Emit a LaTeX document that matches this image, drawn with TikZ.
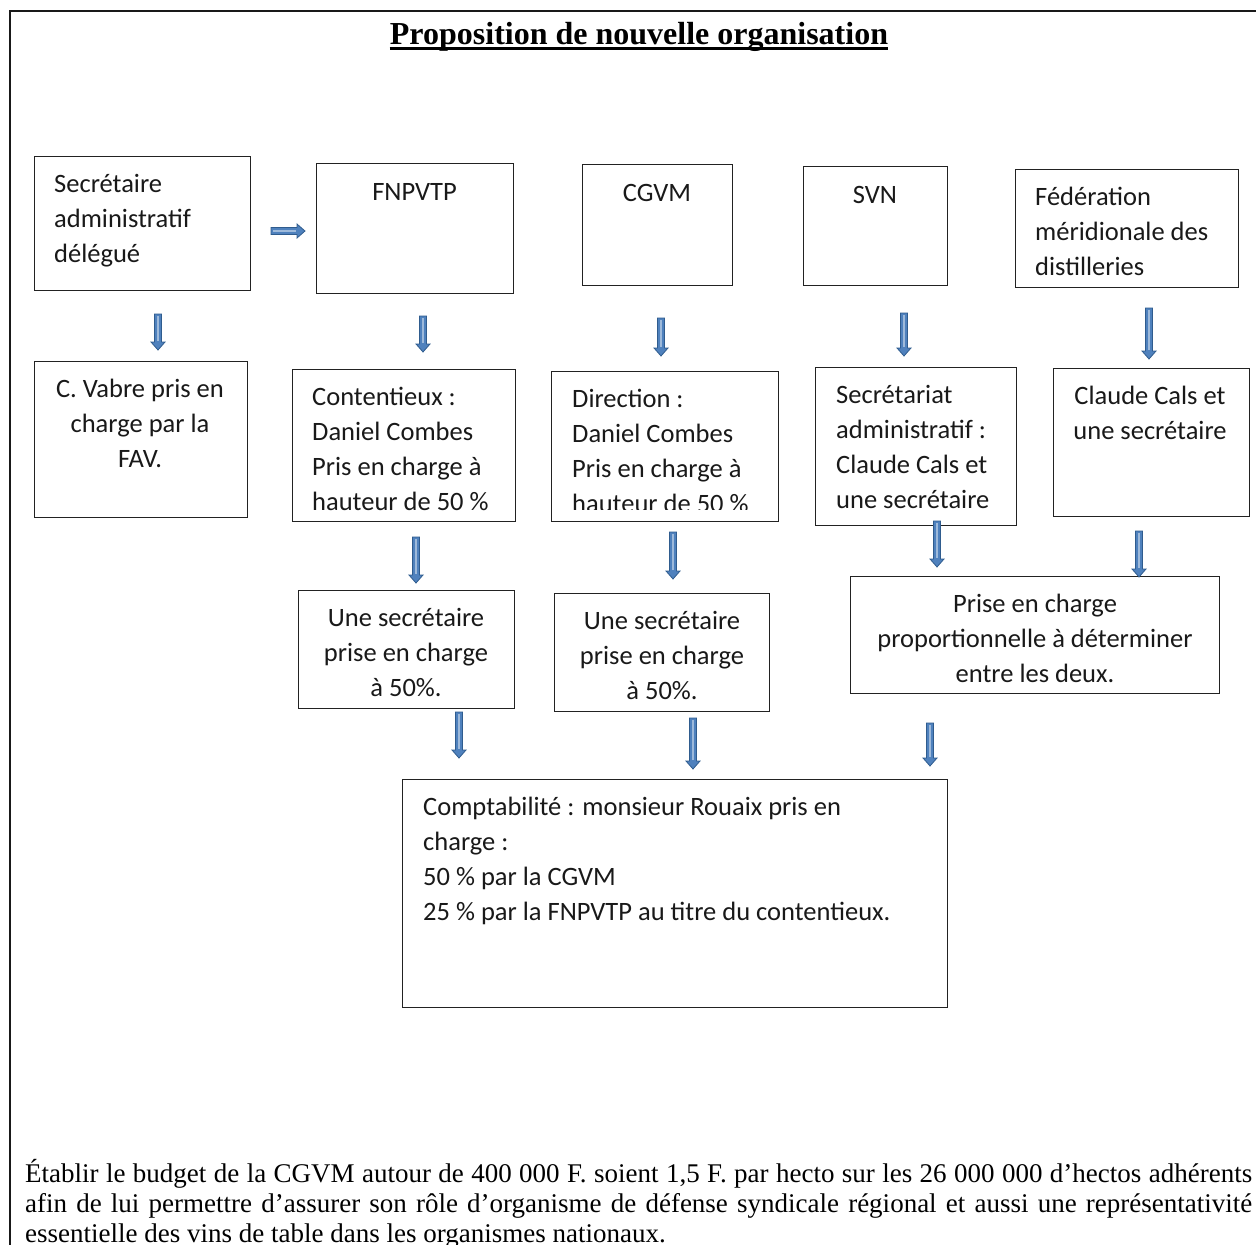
\documentclass[tikz,border=0pt]{standalone}
\usepackage{fontspec}
\setmainfont{Carlito}
\newfontfamily\tnr{Liberation Serif}
\definecolor{arrowfill}{HTML}{4F81BD}
\definecolor{arrowedge}{HTML}{2F5C8E}
\definecolor{boxline}{HTML}{222222}
\newcommand\blockdown[3]{%
  \fill[arrowfill, draw=arrowedge, line width=0.8pt, line join=miter]
    ({#1-3.5},{#2}) -- ({#1+3.5},{#2}) -- ({#1+3.5},{#3-8}) -- ({#1+7},{#3-8})
    -- ({#1},{#3}) -- ({#1-7},{#3-8}) -- ({#1-3.5},{#3-8}) -- cycle;
  \draw[white!45!arrowfill, line width=1.2pt] ({#1},{#2+2}) -- ({#1},{#3-9});}
\tikzset{
  box/.style={draw=boxline, line width=1.3pt, anchor=north west, inner sep=0pt},
  txt/.style={inner sep=0pt, font=\fontsize{26.5}{35}\selectfont, text=black!90},
  txtl/.style={txt, anchor=base west, align=left},
  txtc/.style={txt, anchor=base, align=center},
}
\begin{document}
\begin{tikzpicture}[x=1pt, y=-1pt]
\useasboundingbox (0,0) rectangle (1256,1245);
\fill[white] (0,0) rectangle (1256,1245);
% outer frame
\draw[line width=2.6pt, black!90] (1256,11) -- (10,11) -- (10,1250);
% title
\node[inner sep=0pt, anchor=base, font=\tnr\bfseries\fontsize{32}{36}\selectfont] (title) at (639,44) {Proposition de nouvelle organisation};
\draw[line width=2.4pt] ([yshift=-4.5pt]title.base west) -- ([yshift=-4.5pt]title.base east);

% row 1 boxes
\node[box, minimum width=216, minimum height=134] (a1) at (34,156) {};
\node[box, minimum width=197, minimum height=130] (b1) at (316,163) {};
\node[box, minimum width=150, minimum height=121] (c1) at (582,164) {};
\node[box, minimum width=144, minimum height=119] (d1) at (803,166) {};
\node[box, minimum width=223, minimum height=118] (e1) at (1015,169) {};
\node[txtl] (a1t) at (54,262) {Secrétaire\\administratif\\délégué};
\node[txtc] (b1t) at (414.5,200) {FNPVTP};
\node[txtc] (c1t) at (657,201) {CGVM};
\node[txtc] (d1t) at (875,203) {SVN};
\node[txtl] (e1t) at (1035,275) {Fédération\\méridionale des\\distilleries};

% horizontal arrow
\fill[arrowfill, draw=arrowedge, line width=0.8pt]
  (271,227.5) -- (297,227.5) -- (297,224) -- (305,231) -- (297,238) -- (297,234.5) -- (271,234.5) -- cycle;
\draw[white!45!arrowfill, line width=1.2pt] (273,231) -- (296,231);

% row 2 boxes
\node[box, minimum width=213, minimum height=156] (a2) at (34,361) {};
\node[box, minimum width=223, minimum height=152] (b2) at (292,369) {};
\node[box, minimum width=227, minimum height=150] (c2) at (551,371) {};
\node[box, minimum width=201, minimum height=158] (d2) at (815,367) {};
\node[box, minimum width=196, minimum height=148] (e2) at (1053,368) {};
\node[txtc] (a2t) at (140,467) {C. Vabre pris en\\charge par la\\FAV.};
\node[txtl] (b2t) at (312,510) {Contentieux :\\Daniel Combes\\Pris en charge à\\hauteur de 50 \%};
\begin{scope}
\clip (552,372) rectangle (777,509);
\node[txtl] (c2t) at (572,512) {Direction :\\Daniel Combes\\Pris en charge à\\hauteur de 50 \%};
\end{scope}
\node[txtl] (d2t) at (836,508) {Secrétariat\\administratif :\\Claude Cals et\\une secrétaire};
\node[txtc] (e2t) at (1150,439) {Claude Cals et\\une secrétaire};

% row 3 boxes
\node[box, minimum width=216, minimum height=118] (b3) at (298,590) {};
\node[box, minimum width=215, minimum height=118] (c3) at (554,593) {};
\node[box, minimum width=369, minimum height=117] (d3) at (850,576) {};
\node[txtc] (b3t) at (406,696) {Une secrétaire\\prise en charge\\à 50\%.};
\node[txtc] (c3t) at (662,699) {Une secrétaire\\prise en charge\\à 50\%.};
\node[txtc] (d3t) at (1035,682) {Prise en charge\\proportionnelle à déterminer\\entre les deux.};

% row 4 box
\node[box, minimum width=545, minimum height=228] (f) at (402,779) {};
\node[txtl] (ft) at (423,920) {Comptabilité : monsieur Rouaix pris en\\charge :\\50 \% par la CGVM\\25 \% par la FNPVTP au titre du contentieux.};

% down arrows
\blockdown{158}{314}{350}
\blockdown{423}{316}{352}
\blockdown{661}{318}{356}
\blockdown{904}{313}{356}
\blockdown{1149}{308}{359}
\blockdown{416}{537}{583}
\blockdown{673}{532}{579}
\blockdown{937}{521}{567}
\blockdown{1139}{531}{577}
\blockdown{459}{712}{758}
\blockdown{693}{718}{769}
\blockdown{930}{723}{766}

% bottom paragraph
\node[inner sep=0pt, anchor=north west, text width=1227pt, align=justify,
      font=\tnr\fontsize{27}{30}\selectfont] (para) at (25,1159)
  {Établir le budget de la CGVM autour de 400 000 F. soient 1,5 F. par hecto sur les 26 000 000 d’hectos adhérents\linebreak
   afin de lui permettre d’assurer son rôle d’organisme de défense syndicale régional et aussi une représentativité\linebreak
   essentielle des vins de table dans les organismes nationaux.};
\end{tikzpicture}
\end{document}
